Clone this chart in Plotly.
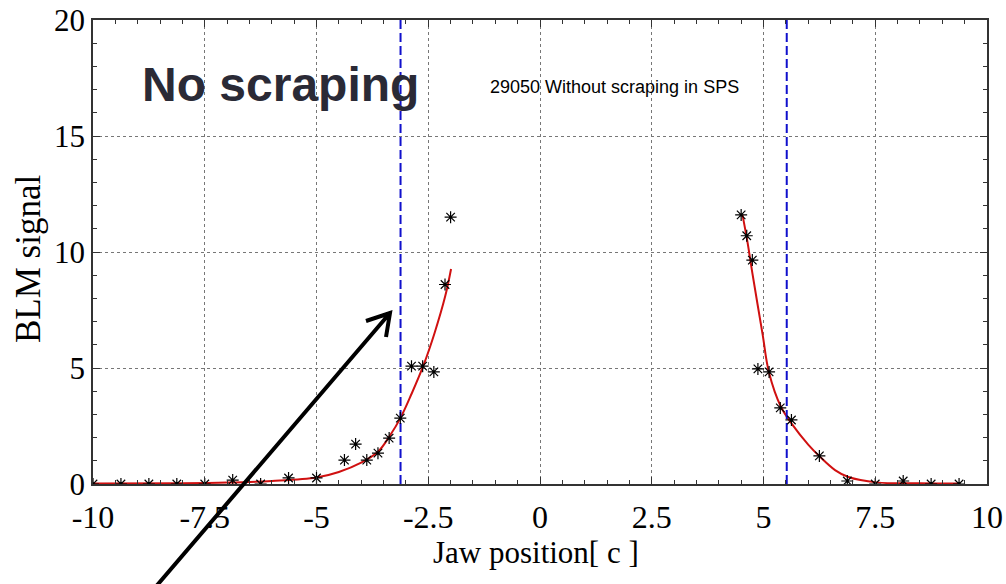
import plotly.graph_objects as go

# ---- data ----
meas_x_left = [-10, -9.375, -8.75, -8.125, -7.5, -6.875, -6.25, -5.625, -5.0,
               -4.375, -4.125, -3.875, -3.625, -3.375, -3.125, -2.875, -2.625,
               -2.375, -2.125, -2.0]
meas_y_left = [0, 0, 0, 0, 0, 0.17, 0, 0.26, 0.26,
               1.03, 1.72, 1.03, 1.33, 1.98, 2.84, 5.08, 5.08,
               4.83, 8.6, 11.5]

meas_x_right = [4.5, 4.625, 4.75, 4.875, 5.125, 5.375, 5.625, 6.25, 6.875,
                7.5, 8.125, 8.75, 9.375]
meas_y_right = [11.6, 10.7, 9.65, 4.96, 4.83, 3.28, 2.76, 1.21, 0.13,
                0.0, 0.13, 0.0, 0.0]

fit_x_left = [-10, -8, -7, -6, -5, -4.5, -4, -3.62, -3.37, -3.12, -2.87,
              -2.61, -2.36, -2.12, -1.99]
fit_y_left = [0.02, 0.03, 0.06, 0.13, 0.28, 0.52, 0.92, 1.4, 2.05, 2.85, 3.9,
              5.1, 6.5, 8.1, 9.27]

fit_x_right = [4.53, 4.64, 4.75, 4.98, 5.12, 5.39, 5.65, 6.0, 6.26, 6.6, 6.9,
               7.53, 8.5, 9.4]
fit_y_right = [11.6, 10.45, 9.1, 6.45, 4.83, 3.33, 2.55, 1.7, 1.18, 0.6, 0.3,
               0.07, 0.03, 0.02]

boundary_x = [-3.12, 5.52]
y_range = [0, 20]
x_range = [-10, 10]

x_tickvals = [-10, -7.5, -5, -2.5, 0, 2.5, 5, 7.5, 10]
x_ticktext = ["-10", "-7.5", "-5", "-2.5", "0", "2.5", "5", "7.5", "10"]
y_tickvals = [0, 5, 10, 15, 20]
y_ticktext = ["0", "5", "10", "15", "20"]

x_title = "Jaw position[ c ]"
y_title = "BLM signal"
big_label = "No scraping"
small_label = "29050 Without scraping in SPS"

# ---- figure ----
W, H = 1006, 584
ML, MR, MT, MB = 93, 19, 20, 100
PW, PH = W - ML - MR, H - MT - MB


def px2paper(px, py):
    return (px - ML) / PW, (H - MB - py) / PH


fig = go.Figure()

RED = "#d01010"
fig.add_trace(go.Scatter(x=fit_x_left, y=fit_y_left, mode="lines",
                         line=dict(color=RED, width=2, shape="spline"),
                         hoverinfo="skip", showlegend=False))
fig.add_trace(go.Scatter(x=fit_x_right, y=fit_y_right, mode="lines",
                         line=dict(color=RED, width=2, shape="spline"),
                         hoverinfo="skip", showlegend=False))

for bx in boundary_x:
    fig.add_trace(go.Scatter(x=[bx, bx], y=y_range, mode="lines",
                             line=dict(color="#1010cc", width=2, dash="9px,4px"),
                             hoverinfo="skip", showlegend=False))

mk = dict(symbol="asterisk-open", size=10, color="black",
          line=dict(color="black", width=1.2))
fig.add_trace(go.Scatter(x=meas_x_left, y=meas_y_left, mode="markers",
                         marker=mk, showlegend=False))
fig.add_trace(go.Scatter(x=meas_x_right, y=meas_y_right, mode="markers",
                         marker=mk, showlegend=False))

axis_common = dict(
    showline=True, linecolor="#333333", linewidth=1.5, mirror="ticks",
    ticks="inside", ticklen=7, tickwidth=1, tickcolor="#333333",
    showgrid=True, gridcolor="#777777", griddash="dot", gridwidth=1,
    zeroline=False, tickmode="array", automargin=False,
)

fig.update_xaxes(range=x_range, tickvals=x_tickvals, ticktext=x_ticktext,
                 ticklabelstandoff=4,
                 tickfont=dict(family="Liberation Serif", size=32, color="black"),
                 minor=dict(tickmode="linear", tick0=-10, dtick=0.5,
                            ticks="inside", ticklen=4, tickcolor="#333333",
                            showgrid=False),
                 **axis_common)
fig.update_yaxes(range=y_range, tickvals=y_tickvals, ticktext=y_ticktext,
                 ticklabelstandoff=0,
                 tickfont=dict(family="Liberation Serif", size=31, color="black"),
                 minor=dict(tickmode="linear", tick0=0, dtick=1,
                            ticks="inside", ticklen=4, tickcolor="#333333",
                            showgrid=False),
                 **axis_common)

# arrow (paper coordinates so it may leave the plot area)
tx, ty = px2paper(153, 590)
hx, hy = px2paper(390, 313)
a1x, a1y = px2paper(366, 321)
a2x, a2y = px2paper(386, 337)
fig.add_shape(type="path", xref="paper", yref="paper",
              path=f"M {tx},{ty} L {hx},{hy} M {a1x},{a1y} L {hx},{hy} L {a2x},{a2y}",
              line=dict(color="black", width=4), layer="above")

annots = []
bx_, by_ = px2paper(140, 84)
annots.append(dict(text=f"<b>{big_label}</b>", x=bx_, y=by_, xref="paper", yref="paper",
                   xanchor="left", yanchor="middle", showarrow=False,
                   font=dict(family="Liberation Sans", size=48, color="#2a2a36")))
sx_, sy_ = px2paper(488, 87)
annots.append(dict(text=small_label, x=sx_, y=sy_, xref="paper", yref="paper",
                   xanchor="left", yanchor="middle", showarrow=False,
                   font=dict(family="Liberation Sans", size=18, color="black")))
xtx, xty = px2paper(536, 552)
annots.append(dict(text=x_title, x=xtx, y=xty, xref="paper", yref="paper",
                   xanchor="center", yanchor="middle", showarrow=False,
                   font=dict(family="Liberation Serif", size=31, color="black")))
ytx, yty = px2paper(28, 259)
annots.append(dict(text=y_title, x=ytx, y=yty, xref="paper", yref="paper",
                   xanchor="center", yanchor="middle", showarrow=False, textangle=-90,
                   font=dict(family="Liberation Serif", size=35, color="black")))

fig.update_layout(width=W, height=H, margin=dict(l=ML, r=MR, t=MT, b=MB),
                  paper_bgcolor="white", plot_bgcolor="white",
                  annotations=annots, showlegend=False)

fig.write_html("out.html")
